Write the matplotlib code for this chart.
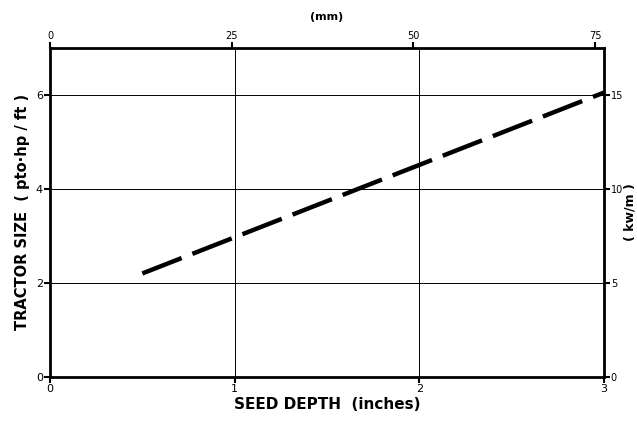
import matplotlib.pyplot as plt

# datos
profundidad = [0.5, 3.0]          # pulgadas
potencia = [2.2, 6.05]            # pto hp/ft

ticks_x = [0, 1, 2, 3]
ticks_y = [0, 2, 4, 6]
ticks_mm = [0, 25, 50, 75]
ticks_kw = [0, 5, 10, 15]

MM_POR_PULG = 25.4
KW_POR_HP = 2.5

fig = plt.figure(figsize=(6.37, 4.21), dpi=100)
ax = fig.add_axes([0.0785, 0.105, 0.8695, 0.781])

ax.plot(profundidad, potencia, color='black', linewidth=3.2,
        linestyle=(0, (9.5, 2.6)), solid_capstyle='butt')

ax.set_xlim(0, 3)
ax.set_ylim(0, 7)
ax.set_xticks(ticks_x)
ax.set_yticks(ticks_y)
ax.grid(True, color='black', linewidth=0.7)

for lado in ['left', 'bottom', 'top', 'right']:
    ax.spines[lado].set_linewidth(2.0)

ax.tick_params(direction='out', length=4, width=1.5, labelsize=8, pad=1)
ax.set_xlabel('SEED DEPTH  (inches)', fontsize=11, fontweight='bold', labelpad=2)
ax.set_ylabel('TRACTOR SIZE  ( pto·hp / ft )', fontsize=10.5, fontweight='bold', labelpad=4)

# eje superior en mm
ax_mm = ax.secondary_xaxis('top', functions=(lambda x: x * MM_POR_PULG,
                                              lambda m: m / MM_POR_PULG))
ax_mm.set_xticks(ticks_mm)
ax_mm.tick_params(direction='out', length=4, width=1.5, labelsize=7, pad=1)
ax_mm.set_xlabel('(mm)', fontsize=8, fontweight='bold', labelpad=8)

# eje derecho en kw/m
ax_kw = ax.secondary_yaxis('right', functions=(lambda y: y * KW_POR_HP,
                                                lambda k: k / KW_POR_HP))
ax_kw.set_yticks(ticks_kw)
ax_kw.tick_params(direction='out', length=4, width=1.5, labelsize=7, pad=1)
ax_kw.set_ylabel('( kw/m )', fontsize=9, fontweight='bold', labelpad=0)

fig.savefig('out.png', dpi=100)
